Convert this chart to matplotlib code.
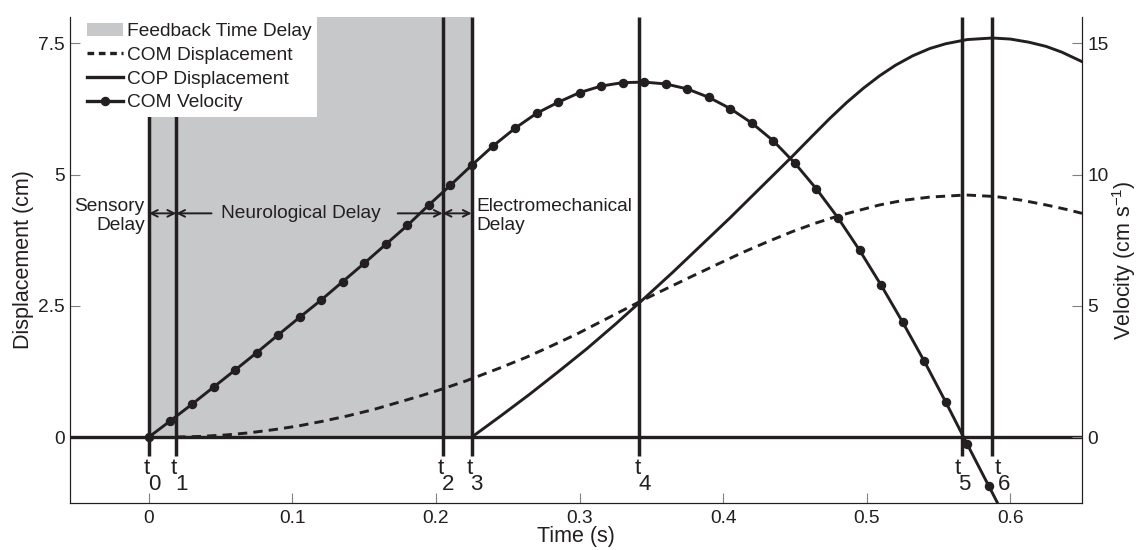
import numpy as np
import matplotlib.pyplot as plt
from matplotlib.patches import Patch
from matplotlib.lines import Line2D

# event times (s)
event_times = [0.0, 0.019, 0.2046, 0.2248, 0.3417, 0.5667, 0.5875]
event_names = ['0', '1', '2', '3', '4', '5', '6']
label_shift_px = [0, 0, 0, 0, 0, -3, 7]

# COM velocity (cm/s), sampled every 15 ms
vel_t = [0.000, 0.015, 0.030, 0.045, 0.060, 0.075, 0.090, 0.105, 0.120, 0.135,
         0.150, 0.165, 0.180, 0.195, 0.210, 0.225, 0.240, 0.255, 0.270, 0.285,
         0.300, 0.315, 0.330, 0.345, 0.360, 0.375, 0.390, 0.405, 0.420, 0.435,
         0.450, 0.465, 0.480, 0.495, 0.510, 0.525, 0.540, 0.555, 0.570, 0.585,
         0.600]
vel = [0.00, 0.62, 1.25, 1.90, 2.55, 3.21, 3.89, 4.56, 5.22, 5.92,
       6.62, 7.34, 8.06, 8.84, 9.59, 10.36, 11.10, 11.76, 12.33, 12.75,
       13.12, 13.37, 13.50, 13.52, 13.45, 13.26, 12.94, 12.51, 11.96, 11.28,
       10.43, 9.45, 8.35, 7.12, 5.79, 4.38, 2.90, 1.34, -0.27, -1.86,
       -3.45]

# COM displacement (cm)
com_t = [0.019, 0.035, 0.054, 0.070, 0.087, 0.104, 0.121, 0.138, 0.156, 0.175,
         0.190, 0.205, 0.221, 0.244, 0.263, 0.280, 0.298, 0.320, 0.342, 0.360,
         0.379, 0.396, 0.414, 0.431, 0.448, 0.464, 0.480, 0.495, 0.509, 0.526,
         0.544, 0.569, 0.590, 0.608, 0.625, 0.640, 0.650]
com = [0.00, 0.01, 0.04, 0.08, 0.14, 0.21, 0.30, 0.40, 0.52, 0.67,
       0.79, 0.92, 1.07, 1.31, 1.52, 1.73, 1.96, 2.27, 2.58, 2.82,
       3.07, 3.29, 3.52, 3.72, 3.91, 4.07, 4.21, 4.32, 4.42, 4.51,
       4.57, 4.61, 4.58, 4.51, 4.42, 4.33, 4.26]

# COP displacement (cm)
cop_t = [0.225, 0.245, 0.265, 0.285, 0.305, 0.325, 0.345, 0.365, 0.385, 0.405,
         0.425, 0.448, 0.462, 0.474, 0.486, 0.498, 0.509, 0.520, 0.532, 0.544,
         0.555, 0.570, 0.5875, 0.600, 0.613, 0.625, 0.636, 0.650]
cop = [0.00, 0.40, 0.81, 1.24, 1.68, 2.15, 2.64, 3.14, 3.66, 4.18,
       4.72, 5.34, 5.73, 6.06, 6.37, 6.65, 6.88, 7.08, 7.26, 7.40,
       7.49, 7.57, 7.60, 7.58, 7.52, 7.44, 7.33, 7.15]

plt.rcParams['font.family'] = ['Liberation Sans', 'DejaVu Sans']
plt.rcParams['font.size'] = 13.8
plt.rcParams['mathtext.fontset'] = 'custom'
plt.rcParams['mathtext.rm'] = 'Liberation Sans'
plt.rcParams['mathtext.it'] = 'Liberation Sans'

ink = '#231f20'
gray = '#c7c8ca'
px = 0.72  # points per pixel at dpi 100
label_fs = 15.5

fig = plt.figure(figsize=(11.43, 5.5), dpi=100)
ax = fig.add_axes([70 / 1143, 1 - 503 / 550, 1012 / 1143, 486 / 550])
ax2 = ax.twinx()

ax.set_xlim(-0.055, 0.65)
ax.set_ylim(-1.257, 8.0)
ax2.set_ylim(-2.514, 16.0)

# feedback delay band
ax.fill_between([0, event_times[3]], 0, 8.0, color=gray, lw=0, zorder=0)

ax.axhline(0, color=ink, lw=2.4, zorder=2)
ax.vlines(event_times, -0.36, 8.0, color=ink, lw=2.5, zorder=2)

com_line, = ax.plot(com_t, com, color=ink, lw=2.1, ls=(0, (3.2, 2.1)), zorder=3)
cop_line, = ax.plot(cop_t, cop, color=ink, lw=2.1, zorder=3)
vel_line, = ax2.plot(vel_t, vel, color=ink, lw=2.1, marker='o', ms=5.8,
                     markerfacecolor=ink, markeredgecolor=ink, zorder=3)

# event labels t0..t6
for t, name, sh in zip(event_times, event_names, label_shift_px):
    ax.annotate('t', xy=(t, 0), xytext=((sh - 2) * px, -31 * px),
                textcoords='offset points', ha='center', va='center',
                fontsize=16, color=ink)
    ax.annotate(name, xy=(t, 0), xytext=((sh + 5) * px, -47 * px),
                textcoords='offset points', ha='center', va='center',
                fontsize=16, color=ink)

# delay annotations
ya = 4.26
arw = dict(arrowstyle='<->', color=ink, lw=1.4, shrinkA=0, shrinkB=0,
           mutation_scale=12)
one = dict(arrowstyle='->', color=ink, lw=1.4, shrinkA=0, shrinkB=0,
           mutation_scale=12)
ax.annotate('', xy=(event_times[0], ya), xytext=(event_times[1], ya), arrowprops=arw)
ax.annotate('', xy=(event_times[2], ya), xytext=(event_times[3], ya), arrowprops=arw)
ax.annotate('', xy=(event_times[1], ya), xytext=(0.0436, ya), arrowprops=one)
ax.annotate('', xy=(event_times[2], ya), xytext=(0.1733, ya), arrowprops=one)
ax.text(0.1057, ya, 'Neurological Delay', ha='center', va='center', color=ink)
ax.text(-0.003, ya - 0.05, 'Sensory\nDelay', ha='right', va='center',
        multialignment='right', color=ink, linespacing=1.1)
ax.text(0.2283, ya - 0.05, 'Electromechanical\nDelay', ha='left', va='center',
        multialignment='left', color=ink, linespacing=1.1)

# axes styling
ax.set_xticks([0, 0.1, 0.2, 0.3, 0.4, 0.5, 0.6])
ax.set_xticklabels(['0', '0.1', '0.2', '0.3', '0.4', '0.5', '0.6'])
ax.set_yticks([0, 2.5, 5, 7.5])
ax.set_yticklabels(['0', '2.5', '5', '7.5'])
ax2.set_yticks([0, 5, 10, 15])
ax2.set_yticklabels(['0', '5', '10', '15'])

for a in (ax, ax2):
    a.spines['top'].set_visible(False)
    for s in a.spines.values():
        s.set_color(ink)
        s.set_linewidth(0.8)
ax.tick_params(axis='x', direction='in', length=7, width=0.8, color='#808080',
               pad=5, labelcolor=ink)
ax.tick_params(axis='y', direction='in', length=7, width=0.8, color='#808080',
               pad=4, labelcolor=ink)
ax2.tick_params(axis='y', direction='in', length=7, width=0.8, color='#808080',
                pad=4, labelcolor=ink)

ax.set_xlabel('Time (s)', color=ink, labelpad=-1, fontsize=label_fs)
ax.set_ylabel('Displacement (cm)', color=ink, labelpad=3, fontsize=label_fs)
ax2.set_ylabel('Velocity (cm s$^{-1}$)', color=ink, labelpad=1, fontsize=label_fs)

handles = [Patch(facecolor=gray, edgecolor='none'),
           Line2D([], [], color=ink, lw=2.4, ls=(0, (2.0, 1.4))),
           Line2D([], [], color=ink, lw=2.4),
           Line2D([], [], color=ink, lw=2.4, marker='o', ms=5.8)]
labels = ['Feedback Time Delay', 'COM Displacement', 'COP Displacement', 'COM Velocity']
leg = ax2.legend(handles, labels, loc='upper left',
                 bbox_to_anchor=(11 / 1012, 1.0), borderaxespad=0,
                 frameon=True, fancybox=False, handlelength=1.9,
                 handletextpad=0.2, labelspacing=0.33, borderpad=0.3,
                 markerscale=1.0)
leg.get_frame().set_facecolor('white')
leg.get_frame().set_edgecolor('none')
leg.get_frame().set_alpha(1)
for txt in leg.get_texts():
    txt.set_color(ink)

fig.savefig('out.png', dpi=100)
